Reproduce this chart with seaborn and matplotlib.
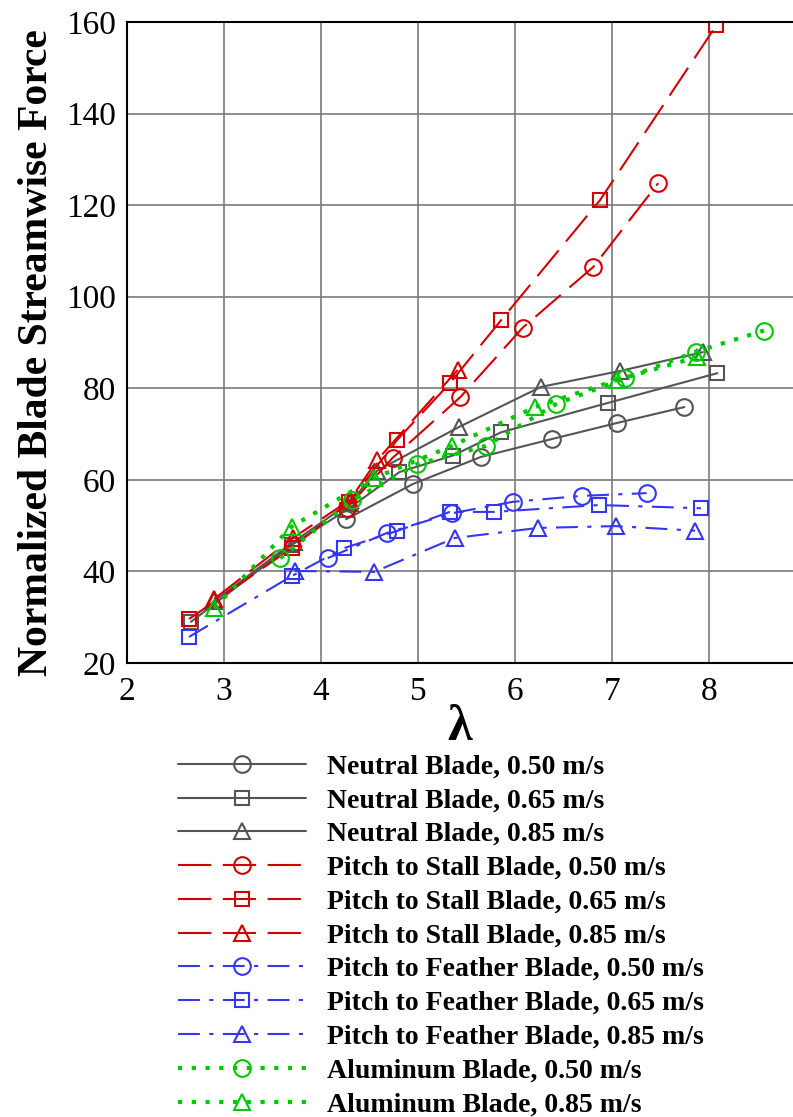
import matplotlib
matplotlib.use('Agg')
import matplotlib.pyplot as plt
import seaborn as sns
from matplotlib.ticker import MultipleLocator

sns.set_style('white')
plt.rcParams['font.family'] = ['Liberation Serif', 'DejaVu Serif']
plt.rcParams['text.color'] = 'black'
plt.rcParams['axes.labelcolor'] = 'black'
plt.rcParams['xtick.color'] = 'black'
plt.rcParams['ytick.color'] = 'black'

# Neutral blade
neutral_050_x = [4.26, 4.95, 5.65, 6.38, 7.05, 7.75]
neutral_050_y = [51.4, 59.1, 65.0, 68.9, 72.4, 75.9]
neutral_065_x = [2.66, 3.70, 4.27, 4.81, 5.36, 5.86, 6.96, 8.09]
neutral_065_y = [29.0, 45.8, 53.5, 61.7, 65.3, 70.4, 76.8, 83.3]
neutral_085_x = [2.90, 3.72, 4.30, 4.58, 5.42, 6.27, 7.09, 7.94]
neutral_085_y = [33.5, 46.5, 55.0, 62.0, 71.5, 80.3, 83.8, 87.9]

# Pitch to stall blade
stall_050_x = [4.27, 4.74, 5.44, 6.08, 6.81, 7.48]
stall_050_y = [53.9, 64.8, 78.1, 93.2, 106.5, 124.8]
stall_065_x = [2.64, 3.70, 4.29, 4.79, 5.33, 5.86, 6.88, 8.08]
stall_065_y = [29.6, 45.1, 55.2, 68.8, 81.1, 94.9, 121.1, 159.3]
stall_085_x = [2.90, 3.71, 4.30, 4.58, 5.41]
stall_085_y = [34.0, 47.3, 55.6, 64.3, 84.0]

# Pitch to feather blade
feather_050_x = [4.07, 4.68, 5.35, 5.98, 6.69, 7.36]
feather_050_y = [42.9, 48.4, 52.7, 55.2, 56.5, 57.1]
feather_065_x = [2.64, 3.70, 4.24, 4.78, 5.33, 5.79, 6.87, 7.92]
feather_065_y = [25.7, 39.0, 45.1, 48.8, 53.0, 53.0, 54.5, 53.8]
feather_085_x = [3.73, 4.55, 5.38, 6.24, 7.04, 7.86]
feather_085_y = [40.1, 39.9, 47.3, 49.5, 49.9, 48.9]

# Aluminum blade
alum_050_x = [3.58, 4.32, 4.99, 5.70, 6.43, 7.14, 7.87, 8.57]
alum_050_y = [42.9, 55.5, 63.4, 67.4, 76.6, 82.2, 88.0, 92.6]
alum_085_x = [2.90, 3.70, 4.55, 5.35, 6.21, 7.05, 7.88]
alum_085_y = [32.0, 49.8, 60.4, 67.4, 75.9, 81.8, 86.8]

gris = '#555555'
rojo = '#d40000'
azul = '#3535f5'
verde = '#00c800'

estilo_neutral = '-'
estilo_stall = (0, (16, 5.5))
estilo_feather = (0, (10.5, 4.5, 2, 4.5))
estilo_alum = (0, (1, 2.3))

series = [
    (neutral_050_x, neutral_050_y, gris, estilo_neutral, 'o', 'Neutral Blade, 0.50 m/s'),
    (neutral_065_x, neutral_065_y, gris, estilo_neutral, 's', 'Neutral Blade, 0.65 m/s'),
    (neutral_085_x, neutral_085_y, gris, estilo_neutral, '^', 'Neutral Blade, 0.85 m/s'),
    (stall_050_x, stall_050_y, rojo, estilo_stall, 'o', 'Pitch to Stall Blade, 0.50 m/s'),
    (stall_065_x, stall_065_y, rojo, estilo_stall, 's', 'Pitch to Stall Blade, 0.65 m/s'),
    (stall_085_x, stall_085_y, rojo, estilo_stall, '^', 'Pitch to Stall Blade, 0.85 m/s'),
    (feather_050_x, feather_050_y, azul, estilo_feather, 'o', 'Pitch to Feather Blade, 0.50 m/s'),
    (feather_065_x, feather_065_y, azul, estilo_feather, 's', 'Pitch to Feather Blade, 0.65 m/s'),
    (feather_085_x, feather_085_y, azul, estilo_feather, '^', 'Pitch to Feather Blade, 0.85 m/s'),
    (alum_050_x, alum_050_y, verde, estilo_alum, 'o', 'Aluminum Blade, 0.50 m/s'),
    (alum_085_x, alum_085_y, verde, estilo_alum, '^', 'Aluminum Blade, 0.85 m/s'),
]

tamanos = {'o': 12, 's': 10, '^': 12}

fig = plt.figure(figsize=(7.93, 11.17), dpi=100)
W, H = 793, 1117
ax = fig.add_axes([127 / W, (H - 663) / H, (W - 127) / W, (663 - 22) / H])

for xs, ys, c, ls, m, lab in series:
    lw = 3.0 if ls == estilo_alum else 1.5
    sns.lineplot(x=xs, y=ys, ax=ax, color=c, linestyle=ls, linewidth=lw,
                 marker=m, markersize=tamanos[m], markerfacecolor='none',
                 markeredgecolor=c, markeredgewidth=1.5, label=lab,
                 dash_capstyle='butt')

ax.set_xlim(2, 8.87)
ax.set_ylim(20, 160)
ax.xaxis.set_major_locator(MultipleLocator(1))
ax.xaxis.set_minor_locator(MultipleLocator(0.2))
ax.yaxis.set_major_locator(MultipleLocator(20))
ax.yaxis.set_minor_locator(MultipleLocator(5))
ax.grid(True, which='major', color='#7a7a7a', linewidth=1.2)
ax.tick_params(which='both', direction='in', labelsize=24, width=1.2, color='#333333',
               labelcolor='black')
ax.tick_params(which='major', length=15, pad=8)
ax.tick_params(which='minor', length=9)
ax.tick_params(axis='x', pad=10)
for lado in ['left', 'bottom', 'top']:
    ax.spines[lado].set_color('black')
    ax.spines[lado].set_linewidth(1.5)
ax.spines['right'].set_visible(False)

ax.set_xlabel('λ', fontsize=36, fontweight='bold', labelpad=-2)
ax.set_ylabel('Normalized Blade Streamwise Force', fontsize=30, fontweight='bold')
ax.yaxis.set_label_coords(-0.107, 0.485)

handles, labels = ax.get_legend_handles_labels()
ax.get_legend().remove()
fig.legend(handles, labels, loc='upper left', bbox_to_anchor=(178 / W, 1 - 754 / H),
           frameon=False, borderpad=0, borderaxespad=0, handlelength=4.6,
           handletextpad=0.75, labelspacing=0.3, numpoints=1, labelcolor='black',
           prop={'family': 'Liberation Serif', 'weight': 'bold', 'size': 20})

fig.savefig('out.png', dpi=100)
